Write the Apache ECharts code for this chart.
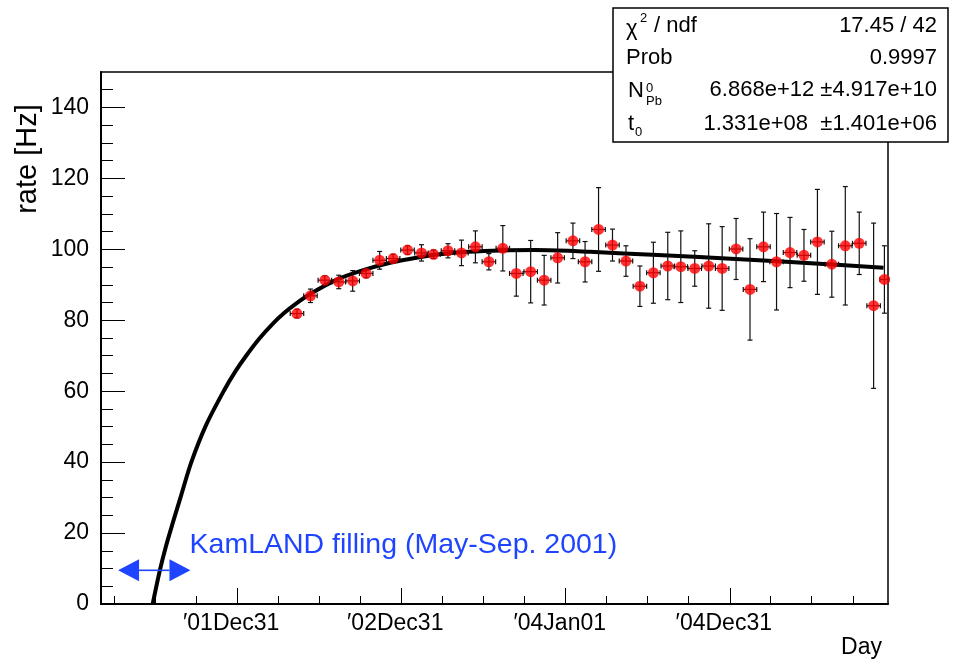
<!DOCTYPE html>
<html>
<head>
<meta charset="utf-8">
<title>Po-210 rate</title>
<script src="https://cdn.jsdelivr.net/npm/echarts@6/dist/echarts.min.js"></script>
<style>
  html, body { margin: 0; padding: 0; background: #fff; }
  #chart { width: 959px; height: 666px; }
</style>
</head>
<body>
<div id="chart"></div>
<script>
// Monthly bins; x is the day count from 2001-01-01.
const binDays = [497, 527, 559, 590, 621, 651, 681, 711, 743, 774, 801, 833, 863, 894, 924,
  955, 985, 1017, 1047, 1077, 1111, 1138, 1168, 1199, 1229, 1260, 1290, 1322, 1351, 1382,
  1413, 1443, 1474, 1505, 1535, 1564, 1594, 1625, 1655, 1687, 1717, 1748, 1780, 1804];
const binHalfWidth = [15, 15, 15, 15, 15, 15, 15, 15, 15, 15, 15, 15, 15, 15, 15,
  15, 15, 15, 15, 15, 15, 15, 15, 15, 15, 15, 15, 15, 15, 15,
  15, 15, 15, 15, 15, 15, 15, 15, 15, 15, 15, 15, 15, 10];
const rate = [81.9, 86.9, 91.3, 90.8, 91.1, 93.2, 96.9, 97.4, 99.8, 99.0, 98.6, 99.6, 99.0, 100.7, 96.5,
  100.3, 93.2, 93.7, 91.3, 97.6, 102.4, 96.5, 105.6, 101.2, 96.7, 89.6, 93.4, 95.3, 95.1, 94.6,
  95.3, 94.6, 100.1, 88.7, 100.7, 96.5, 99.1, 98.3, 102.1, 95.8, 101.0, 101.7, 84.1, 91.5];
const rateErr = [1.2, 1.9, 1.2, 1.9, 2.9, 1.2, 2.5, 1.2, 1.2, 2.3, 1.2, 2.0, 3.6, 4.5, 2.3,
  6.4, 6.4, 8.8, 7.0, 7.1, 5.0, 5.7, 11.8, 4.5, 4.3, 5.7, 8.6, 9.5, 10.1, 5.0,
  11.9, 11.8, 8.6, 14.3, 9.8, 13.6, 9.9, 7.3, 14.8, 9.3, 16.7, 8.8, 23.3, 9.5];

// Fitted ingrowth/decay curve, sampled along the day axis.
const fitDays = [176, 192, 206, 221, 239, 262, 295, 336, 360, 384, 413, 443, 469, 495, 529, 588, 648,
  707, 766, 815, 878, 952, 1026, 1100, 1149, 1300, 1483, 1650, 1802];
const fitRate = [0, 9.5, 16.5, 23, 30.5, 40, 50.5, 60.5, 65.6, 70, 74.8, 79, 82.1, 84.7, 87.6, 91.6, 94.3,
  96.3, 97.7, 98.6, 99.3, 99.7, 99.8, 99.6, 99.3, 98.4, 97.2, 96.0, 94.8];

// Axis ticks
const xMajorDays = [364, 729, 1095, 1460];
const xMajorLabels = ['\u203201Dec31', '\u203202Dec31', '\u203204Jan01', '\u203204Dec31'];
const xMinorDays = [90, 181, 273, 455, 547, 638, 820, 912, 1003, 1186, 1277, 1368, 1551, 1642, 1734];
const yMajor = [0, 20, 40, 60, 80, 100, 120, 140];
const yMinor = [5, 10, 15, 25, 30, 35, 45, 50, 55, 65, 70, 75, 85, 90, 95, 105, 110, 115, 125, 130, 135, 145];

// Fit summary
const statValues = ['17.45 / 42', '0.9997', '6.868e+12 \u00b14.917e+10', '1.331e+08  \u00b11.401e+06'];

// Filling period annotation (days, rate)
const fillingSpan = [99, 260];
const fillingLevel = 9.5;
const fillingText = 'KamLAND filling (May-Sep. 2001)';
const fillingTextAt = [258, 16.5];

const FONT = '"Liberation Sans", Arial, sans-serif';
const BLUE = '#1f44ff';
const X_MIN = 61, X_MAX = 1812, Y_MIN = 0, Y_MAX = 150;

const labelOf = {};
xMajorDays.forEach((d, i) => { labelOf[d] = xMajorLabels[i]; });

const points = binDays.map((d, i) => [d, rate[i], binHalfWidth[i], rateErr[i]]);
const curve = fitDays.map((d, i) => [d, fitRate[i]]);

const chart = echarts.init(document.getElementById('chart'));

function errorBars(params, api) {
  const x = api.value(0), y = api.value(1), ex = api.value(2), ey = api.value(3);
  const top = api.coord([x, y + ey]);
  const bot = api.coord([x, y - ey]);
  const lft = api.coord([x - ex, y]);
  const rgt = api.coord([x + ex, y]);
  const cap = 2.5;
  const style = { stroke: '#111', lineWidth: 1.2 };
  const seg = (x1, y1, x2, y2) => ({ type: 'line', shape: { x1, y1, x2, y2 }, style });
  return {
    type: 'group',
    children: [
      seg(top[0], top[1], bot[0], bot[1]),
      seg(top[0] - cap, top[1], top[0] + cap, top[1]),
      seg(bot[0] - cap, bot[1], bot[0] + cap, bot[1]),
      seg(lft[0], lft[1], rgt[0], rgt[1]),
      seg(lft[0], lft[1] - cap, lft[0], lft[1] + cap),
      seg(rgt[0], rgt[1] - cap, rgt[0], rgt[1] + cap)
    ]
  };
}

chart.setOption({
  animation: false,
  backgroundColor: '#fff',
  grid: {
    left: 101, right: 71, top: 72, bottom: 62,
    show: true, borderColor: '#000', borderWidth: 1.5, backgroundColor: 'transparent'
  },
  xAxis: [
    {
      type: 'value', position: 'bottom', min: X_MIN, max: X_MAX,
      axisLine: { show: true, onZero: false, lineStyle: { color: '#000', width: 2 } },
      axisTick: { show: true, inside: true, length: 16, customValues: xMajorDays,
        lineStyle: { color: '#000', width: 1 } },
      axisLabel: { show: true, customValues: xMajorDays, formatter: v => labelOf[v] || '',
        fontFamily: FONT, fontSize: 23, color: '#000', margin: 8, padding: [0, 12, 0, 0] },
      splitLine: { show: false }
    },
    {
      type: 'value', position: 'bottom', min: X_MIN, max: X_MAX,
      axisLine: { show: false, onZero: false },
      axisTick: { show: true, inside: true, length: 8, customValues: xMinorDays,
        lineStyle: { color: '#000', width: 1 } },
      axisLabel: { show: false },
      splitLine: { show: false }
    }
  ],
  yAxis: [
    {
      type: 'value', position: 'left', min: Y_MIN, max: Y_MAX,
      axisLine: { show: true, onZero: false, lineStyle: { color: '#000', width: 2 } },
      axisTick: { show: true, inside: true, length: 24, customValues: yMajor,
        lineStyle: { color: '#000', width: 1 } },
      axisLabel: { show: true, customValues: yMajor, fontFamily: FONT, fontSize: 23,
        color: '#000', margin: 12 },
      splitLine: { show: false }
    },
    {
      type: 'value', position: 'left', min: Y_MIN, max: Y_MAX,
      axisLine: { show: false, onZero: false },
      axisTick: { show: true, inside: true, length: 12, customValues: yMinor,
        lineStyle: { color: '#000', width: 1 } },
      axisLabel: { show: false },
      splitLine: { show: false }
    }
  ],
  series: [
    {
      name: 'fit', type: 'line', xAxisIndex: 0, yAxisIndex: 0,
      data: curve, smooth: 0.3, showSymbol: false, clip: true,
      lineStyle: { color: '#000', width: 4 }, z: 2
    },
    {
      name: 'errors', type: 'custom', xAxisIndex: 0, yAxisIndex: 0,
      data: points, renderItem: errorBars, z: 3
    },
    {
      name: 'rate', type: 'scatter', xAxisIndex: 0, yAxisIndex: 0,
      data: points.map(p => [p[0], p[1]]), symbol: 'circle', symbolSize: 11,
      itemStyle: { color: '#ff0000' }, z: 4
    }
  ]
});

function px(d, v) { return chart.convertToPixel({ xAxisIndex: 0, yAxisIndex: 0 }, [d, v]); }

const aL = px(fillingSpan[0], fillingLevel);
const aR = px(fillingSpan[1], fillingLevel);
const head = 21, half = 11;
const tAt = px(fillingTextAt[0], fillingTextAt[1]);

// Fit summary box
const boxL = 613, boxT = 8, boxR = 948, boxB = 142;
const rowY = [26, 58, 90, 124];
const statFont = 22;
const boxChildren = [
  { type: 'rect', shape: { x: boxL, y: boxT, width: boxR - boxL, height: boxB - boxT },
    style: { fill: '#fff', stroke: '#000', lineWidth: 1.5 } },
  { type: 'text', x: 626, y: rowY[0] + 3, style: { text: '\u03c7', font: `${statFont}px ${FONT}`, fill: '#000', verticalAlign: 'middle' } },
  { type: 'text', x: 640, y: 18, style: { text: '2', font: `13px ${FONT}`, fill: '#000', verticalAlign: 'middle' } },
  { type: 'text', x: 648, y: rowY[0], style: { text: ' / ndf', font: `${statFont}px ${FONT}`, fill: '#000', verticalAlign: 'middle' } },
  { type: 'text', x: 626, y: rowY[1], style: { text: 'Prob', font: `${statFont}px ${FONT}`, fill: '#000', verticalAlign: 'middle' } },
  { type: 'text', x: 628, y: rowY[2] + 1, style: { text: 'N', font: `${statFont}px ${FONT}`, fill: '#000', verticalAlign: 'middle' } },
  { type: 'text', x: 646, y: 88, style: { text: '0', font: `13px ${FONT}`, fill: '#000', verticalAlign: 'middle' } },
  { type: 'text', x: 646, y: 101, style: { text: 'Pb', font: `13px ${FONT}`, fill: '#000', verticalAlign: 'middle' } },
  { type: 'text', x: 628, y: rowY[3], style: { text: 't', font: `${statFont}px ${FONT}`, fill: '#000', verticalAlign: 'middle' } },
  { type: 'text', x: 635, y: 132, style: { text: '0', font: `13px ${FONT}`, fill: '#000', verticalAlign: 'middle' } }
];
statValues.forEach((s, i) => {
  boxChildren.push({ type: 'text', x: 937, y: rowY[i],
    style: { text: s, font: `${statFont}px ${FONT}`, fill: '#000', align: 'right', verticalAlign: 'middle' } });
});

chart.setOption({
  graphic: [
    { type: 'line', shape: { x1: aL[0] + head, y1: aL[1], x2: aR[0] - head, y2: aR[1] },
      style: { stroke: BLUE, lineWidth: 1.6 }, z: 10 },
    { type: 'polygon', shape: { points: [[aL[0], aL[1]], [aL[0] + head, aL[1] - half], [aL[0] + head, aL[1] + half]] },
      style: { fill: BLUE }, z: 10 },
    { type: 'polygon', shape: { points: [[aR[0], aR[1]], [aR[0] - head, aR[1] - half], [aR[0] - head, aR[1] + half]] },
      style: { fill: BLUE }, z: 10 },
    { type: 'text', x: tAt[0], y: tAt[1], z: 10,
      style: { text: fillingText, font: `28.5px ${FONT}`, fill: BLUE, verticalAlign: 'middle' } },
    { type: 'text', x: 28, y: 159, rotation: Math.PI / 2, z: 10,
      style: { text: 'rate [Hz]', font: `29px ${FONT}`, fill: '#000', align: 'center', verticalAlign: 'middle' } },
    { type: 'text', x: 882, y: 648, z: 10,
      style: { text: 'Day', font: `23px ${FONT}`, fill: '#000', align: 'right', verticalAlign: 'middle' } },
    { type: 'group', z: 20, children: boxChildren }
  ]
});
</script>
</body>
</html>
